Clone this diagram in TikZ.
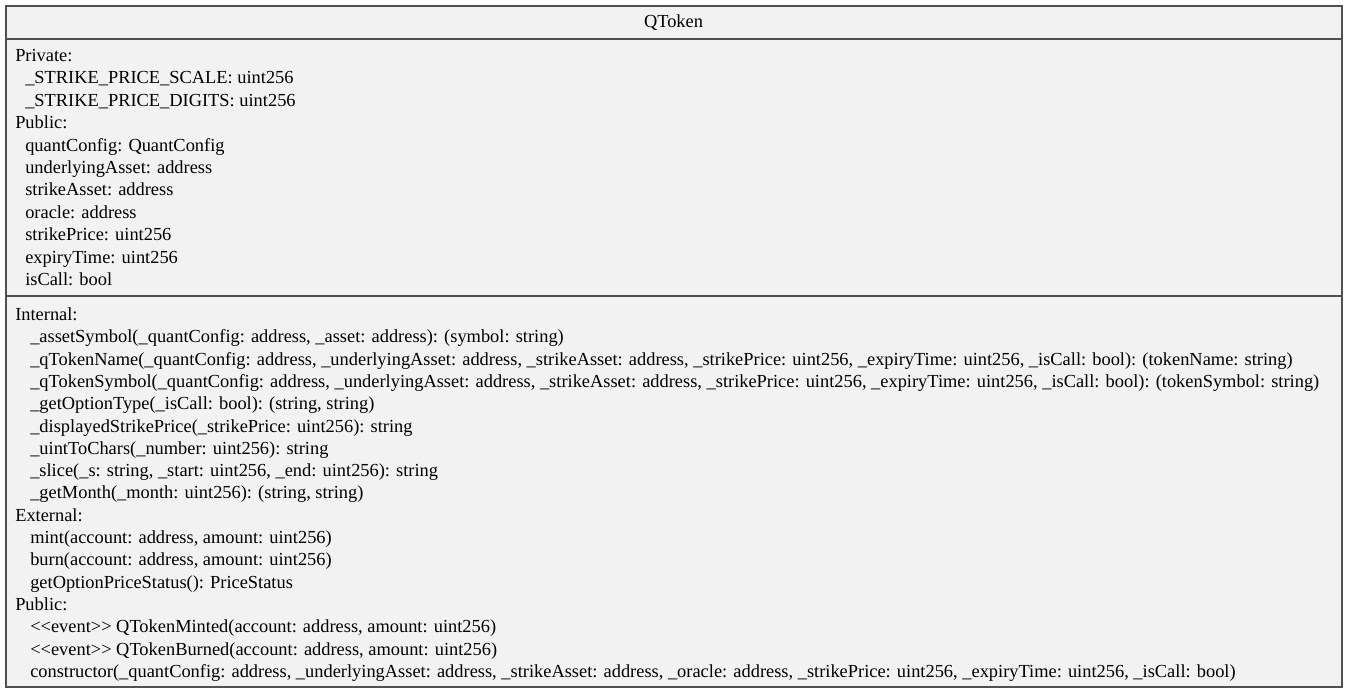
\documentclass[tikz,border=0pt]{standalone}
\usepackage{fontspec}
\setmainfont{Liberation Serif}
\definecolor{boxgray}{HTML}{505050}
\definecolor{boxfill}{HTML}{F2F2F2}
\newcommand{\stereo}[1]{<\kern0pt<#1>\kern0pt>}
\tikzset{
  umltext/.style={anchor=base west, inner sep=0pt, font=\fontsize{13.8}{15}\selectfont},
  umltitle/.style={anchor=base, inner sep=0pt, font=\fontsize{13.8}{15}\selectfont},
}
\begin{document}
\begin{tikzpicture}[x=0.75pt,y=-0.75pt]
    \useasboundingbox (0,0) rectangle (1348,693);
    % class box and compartments
    \draw[boxgray, fill=boxfill, line width=1.5pt] (6,6) rectangle (1342,687);
    \draw[boxgray, line width=1.5pt] (6,39) -- (1342,39);
    \draw[boxgray, line width=1.5pt] (6,296) -- (1342,296);

    \node[umltitle] (title) at (673.5,27.7) {QToken};

    % attributes
    \node[umltext] (private) at (15,61.5) {Private:};
    \node[umltext] (scale) at (25,83.9) {\_STRIKE\_PRICE\_SCALE: uint256};
    \node[umltext] (digits) at (25,106.3) {\_STRIKE\_PRICE\_DIGITS: uint256};
    \node[umltext] (public) at (15,128.7) {Public:};
    \node[umltext] (config) at (25,151.1) {quantConfig: QuantConfig};
    \node[umltext] (underlying) at (25,173.5) {underlyingAsset: address};
    \node[umltext] (strike) at (25,195.9) {strikeAsset: address};
    \node[umltext] (oracle) at (25,218.3) {oracle: address};
    \node[umltext] (price) at (25,240.7) {strikePrice: uint256};
    \node[umltext] (expiry) at (25,263.1) {expiryTime: uint256};
    \node[umltext] (iscall) at (25,285.5) {isCall: bool};

    % operations
    \node[umltext] (internal) at (15,320.5) {Internal:};
    \node[umltext] (assetsym) at (30,342.8) {\_assetSymbol(\_quantConfig: address, \_asset: address): (symbol: string)};
    \node[umltext] (qname) at (30,365.1) {\_qTokenName(\_quantConfig: address, \_underlyingAsset: address, \_strikeAsset: address, \_strikePrice: uint256, \_expiryTime: uint256, \_isCall: bool): (tokenName: string)};
    \node[umltext] (qsymbol) at (30,387.4) {\_qTokenSymbol(\_quantConfig: address, \_underlyingAsset: address, \_strikeAsset: address, \_strikePrice: uint256, \_expiryTime: uint256, \_isCall: bool): (tokenSymbol: string)};
    \node[umltext] (opttype) at (30,409.7) {\_getOptionType(\_isCall: bool): (string, string)};
    \node[umltext] (dispprice) at (30,432.0) {\_displayedStrikePrice(\_strikePrice: uint256): string};
    \node[umltext] (tochars) at (30,454.3) {\_uintToChars(\_number: uint256): string};
    \node[umltext] (slice) at (30,476.6) {\_slice(\_s: string, \_start: uint256, \_end: uint256): string};
    \node[umltext] (month) at (30,498.9) {\_getMonth(\_month: uint256): (string, string)};
    \node[umltext] (external) at (15,521.2) {External:};
    \node[umltext] (mint) at (30,543.5) {mint(account: address, amount: uint256)};
    \node[umltext] (burn) at (30,565.8) {burn(account: address, amount: uint256)};
    \node[umltext] (status) at (30,588.1) {getOptionPriceStatus(): PriceStatus};
    \node[umltext] (pubops) at (15,610.4) {Public:};
    \node[umltext] (minted) at (30,632.7) {\stereo{event} QTokenMinted(account: address, amount: uint256)};
    \node[umltext] (burned) at (30,655.0) {\stereo{event} QTokenBurned(account: address, amount: uint256)};
    \node[umltext] (ctor) at (30,677.3) {constructor(\_quantConfig: address, \_underlyingAsset: address, \_strikeAsset: address, \_oracle: address, \_strikePrice: uint256, \_expiryTime: uint256, \_isCall: bool)};
\end{tikzpicture}
\end{document}
